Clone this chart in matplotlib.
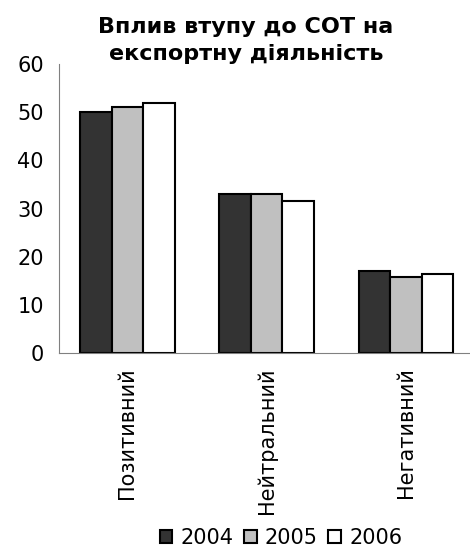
import numpy as np
import matplotlib.pyplot as plt

categories = ['Позитивний', 'Нейтральний', 'Негативний']
years = ['2004', '2005', '2006']
v2004 = [50, 33, 17]
v2005 = [51, 33, 15.8]
v2006 = [52, 31.5, 16.5]

colors = ['#333333', '#c0c0c0', '#ffffff']

def main():
	fig = plt.figure(figsize=(4.7, 5.47), dpi=100)
	ax = fig.add_axes([0.126, 0.354, 0.874, 0.529])

	x = np.arange(len(categories))
	w = 0.226
	for i, (vals, lab) in enumerate(zip([v2004, v2005, v2006], years)):
		ax.bar(x + (i - 1) * w, vals, w, color=colors[i], edgecolor='black', linewidth=1.5, label=lab)

	ax.set_xlim(-0.49, 2.46)
	ax.set_ylim(0, 60)
	ax.set_yticks(range(0, 61, 10))
	ax.set_xticks(x)
	ax.set_xticklabels(categories, rotation=90, fontsize=15)
	ax.tick_params(axis='y', labelsize=15, length=0, pad=11)
	ax.tick_params(axis='x', length=0, pad=10)
	for s in ['top', 'right']:
		ax.spines[s].set_visible(False)
	ax.spines['left'].set_color('#808080')
	ax.spines['bottom'].set_color('#808080')

	# title in two lines
	fig.text(0.523, 1 - 33 / 547, 'Вплив втупу до СОТ на', ha='center', va='baseline',
		fontsize=16, fontweight='bold')
	fig.text(0.523, 1 - 60 / 547, 'експортну діяльність', ha='center', va='baseline',
		fontsize=16, fontweight='bold')

	fig.legend(loc='center', bbox_to_anchor=(281 / 470, 1 - 538 / 547), ncol=3, frameon=False, fontsize=15,
		handlelength=0.6, handleheight=0.6, handletextpad=0.4, columnspacing=0.5, borderpad=0)

	fig.savefig('out.png', dpi=100)

if __name__ == '__main__':
	main()
